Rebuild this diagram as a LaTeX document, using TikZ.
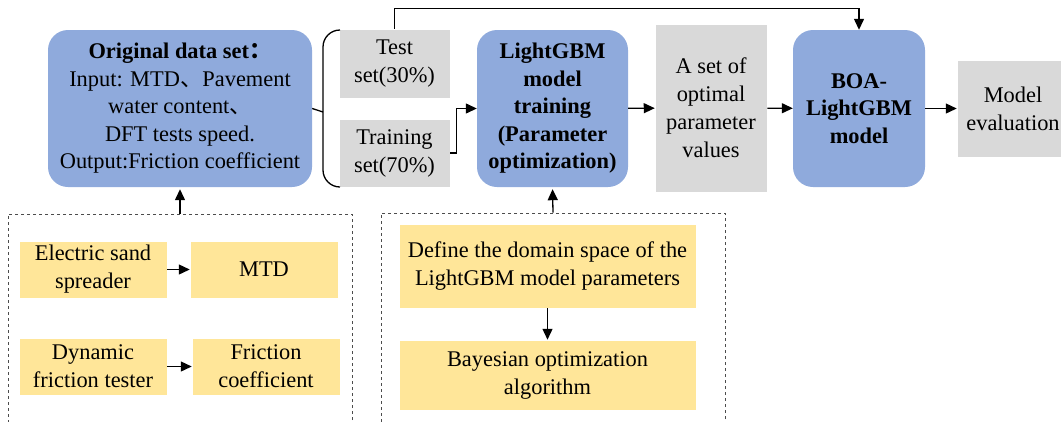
\documentclass[tikz,border=0pt]{standalone}
\usepackage{fontspec}
\setmainfont{Liberation Serif}
\newfontfamily\cjk{Noto Sans CJK SC}
\usetikzlibrary{arrows.meta}
\definecolor{boxblue}{RGB}{143,170,220}
\definecolor{boxgray}{RGB}{217,217,217}
\definecolor{boxyellow}{RGB}{255,230,153}
\begin{document}
\begin{tikzpicture}[x=1pt, y=-1pt,
		every node/.style={font=\fontsize{22.4}{28}\selectfont, align=center, inner sep=0pt},
		bluebox/.style={fill=boxblue, rounded corners=20pt, font=\fontsize{22.4}{27.5}\selectfont\bfseries},
		graybox/.style={fill=boxgray, draw=white, line width=0.5pt},
		yellowbox/.style={fill=boxyellow, draw=white, line width=0.5pt},
		dashbox/.style={draw=black!70, dashed, line width=0.7pt},
		arrow/.style={-{Triangle[length=11pt,width=10pt]}, line width=1.3pt},
		link/.style={line width=1.3pt}]
		\useasboundingbox (0,0) rectangle (1061,421);
		
		\node[dashbox, minimum width=344pt, minimum height=240pt] (devbox) at (180, 334){};
		\node[dashbox, minimum width=344pt, minimum height=240pt] (optbox) at (553, 333){};
		
		\node[bluebox, minimum width=264pt, minimum height=157pt] (orig) at (180, 108.5){Original data set{\cjk ：}\\\mdseries Input: MTD{\cjk 、}Pavement\\\mdseries water content{\cjk 、}\\\mdseries DFT tests speed.\\\mdseries Output:Friction coefficient};
		\node[graybox, minimum width=111pt, minimum height=69pt] (test) at (394.5, 63.5){Test\\set(30\%)};
		\node[graybox, minimum width=111pt, minimum height=68pt] (train) at (394.5, 153){Training\\set(70\%)};
		\node[bluebox, minimum width=151pt, minimum height=157pt] (lgbm) at (552.5, 108.5){LightGBM\\model\\training\\(Parameter\\optimization)};
		\node[graybox, minimum width=112pt, minimum height=168pt] (optimal) at (711, 108){A set of\\optimal\\parameter\\values};
		\node[bluebox, minimum width=132pt, minimum height=157pt] (boa) at (859, 108.5){BOA-\\LightGBM\\model};
		\node[graybox, minimum width=112pt, minimum height=97pt] (eval) at (1013, 108.5){Model\\evaluation};
		
		\node[yellowbox, minimum width=148pt, minimum height=57pt] (sand) at (93, 269.5){Electric sand\\spreader};
		\node[yellowbox, minimum width=148pt, minimum height=57pt] (mtd) at (264, 269.5){MTD};
		\node[yellowbox, minimum width=148pt, minimum height=57pt] (tester) at (93, 366.5){Dynamic\\friction tester};
		\node[yellowbox, minimum width=148pt, minimum height=57pt] (fric) at (266, 366.5){Friction\\coefficient};
		
		\node[yellowbox, minimum width=297pt, minimum height=84pt] (domain) at (547.5, 266){Define the domain space of the\\LightGBM model parameters};
		\node[yellowbox, minimum width=297pt, minimum height=70pt] (bayes) at (547.5, 375){Bayesian optimization\\algorithm};
		
		\coordinate (brace) at (323, 112);
		\draw[link] (340, 30) to[out=180, in=90] (323, 47) -- (323, 170) to[out=-90, in=180] (340, 187);
		\draw[link] (orig.east) -- (brace);
		
		\draw[arrow] (test.north) -- ++(0, -20) -| (boa.north);
		\draw[arrow] (train.east) -- ++(6, 0) |- (lgbm.west);
		\draw[arrow] (lgbm) -- (optimal);
		\draw[arrow] (optimal) -- (boa);
		\draw[arrow] (boa) -- (eval);
		
		\draw[arrow, shorten >=2pt] (devbox.north) -- (orig.south);
		\draw[arrow, shorten >=2pt] (optbox.north) -- (lgbm.south);
		
		\draw[arrow] (sand) -- (mtd);
		\draw[arrow] (tester) -- (fric);
		\draw[arrow] (domain) -- (bayes);
	\end{tikzpicture}
\end{document}
